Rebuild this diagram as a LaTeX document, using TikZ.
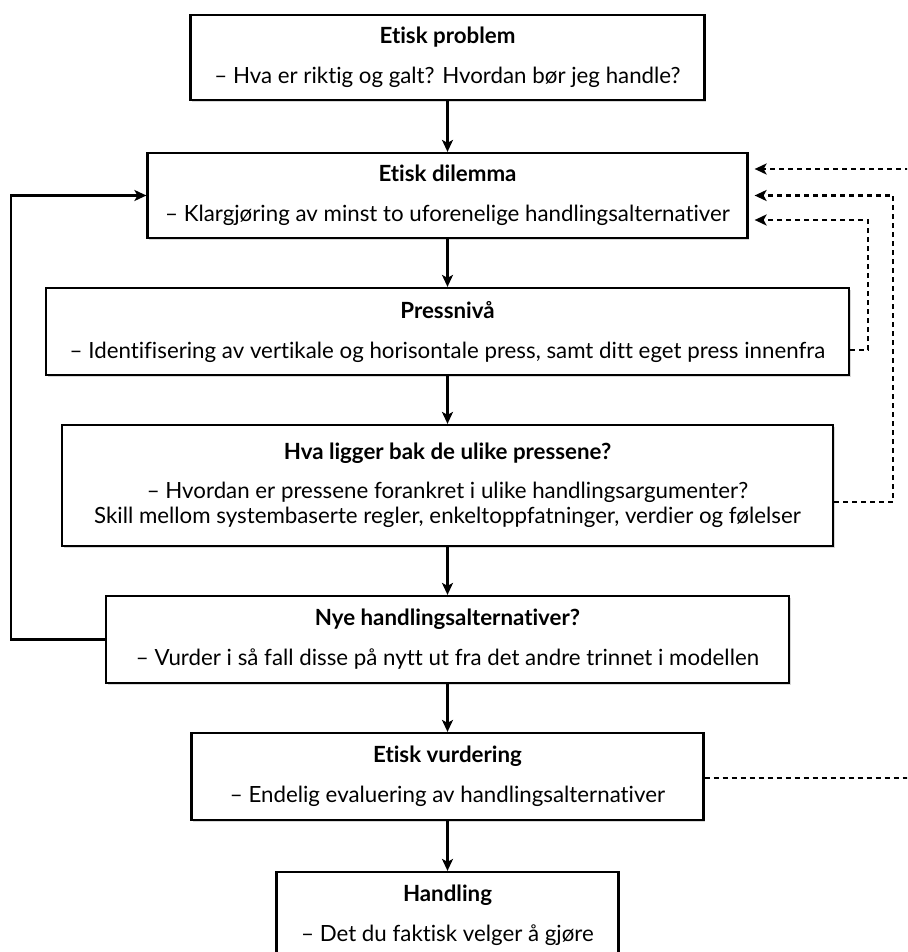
\documentclass[tikz,border=0pt]{standalone}
\usepackage{fontspec}
\setmainfont{Lato}[Ligatures=NoCommon]
\usetikzlibrary{arrows.meta,shadows}
\begin{document}
\begin{tikzpicture}[x=1pt,y=-1pt,
  box/.style={draw, line width=2.2pt, fill=white, inner sep=0pt, align=center,
    font=\fontsize{22.3}{25}\selectfont,
    drop shadow={opacity=0.3, shadow xshift=1.8pt, shadow yshift=-2pt}},
  arr/.style={line width=2.2pt, -{Stealth[length=12pt,width=11pt,inset=3pt]}},
  dsh/.style={line width=2.5pt, dash pattern=on 5pt off 4pt,
    -{Stealth[length=12pt,width=11pt,inset=3pt]}, shorten >=6pt}]
\useasboundingbox (0,0) rectangle (907,952);
\clip (0,0) rectangle (907,952);
\fill[white] (0,0) rectangle (907,952);

\node[box, minimum width=514pt, minimum height=85pt] (b1) at (447.5,57.5)
  {\textbf{Etisk problem}\\[15pt]– Hva er riktig og galt? Hvordan bør jeg handle?};
\node[box, minimum width=600pt, minimum height=85pt] (b2) at (447.5,195.5)
  {\textbf{Etisk dilemma}\\[15pt]– Klargjøring av minst to uforenelige handlingsalternativer};
\node[box, minimum width=803pt, minimum height=87pt] (b3) at (447.5,331.5)
  {\textbf{Pressnivå}\\[15pt]– Identifisering av vertikale og horisontale press, samt ditt eget press innenfra};
\node[box, minimum width=771pt, minimum height=121pt] (b4) at (447.5,485.5)
  {\textbf{Hva ligger bak de ulike pressene?}\\[14pt]– Hvordan er pressene forankret i ulike handlingsargumenter?\\Skill mellom systembaserte regler, enkeltoppfatninger, verdier og følelser};
\node[box, minimum width=683pt, minimum height=87pt] (b5) at (447.5,639.5)
  {\textbf{Nye handlingsalternativer?}\\[15pt]– Vurder i så fall disse på nytt ut fra det andre trinnet i modellen};
\node[box, minimum width=512pt, minimum height=87pt] (b6) at (447.5,776.5)
  {\textbf{Etisk vurdering}\\[15pt]– Endelig evaluering av handlingsalternativer};
\node[box, minimum width=342pt, minimum height=86pt] (b7) at (447.5,915)
  {\textbf{Handling}\\[15pt]– Det du faktisk velger å gjøre};

\draw[arr] (b1.south) -- (b2.north);
\draw[arr] (b2.south) -- (b3.north);
\draw[arr] (b3.south) -- (b4.north);
\draw[arr] (b4.south) -- (b5.north);
\draw[arr] (b5.south) -- (b6.north);
\draw[arr] (b6.south) -- (b7.north);

\draw[arr] (b5.west) -- ++(-94,0) |- (b2.west);

\draw[dsh] ([yshift=-18.5pt]b3.east) -- ++(18,0) |- ([yshift=-24.5pt]b2.east);
\draw[dsh] ([yshift=-16.5pt]b4.east) -- ++(59,0) |- (b2.east);
\draw[dsh] ([yshift=-1.5pt]b6.east) -- ++(230,0) |- ([yshift=26.5pt]b2.east);
\end{tikzpicture}
\end{document}
